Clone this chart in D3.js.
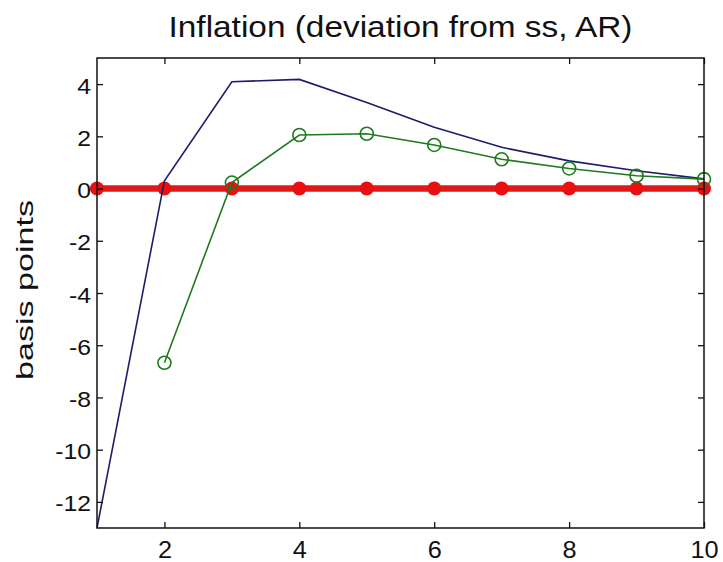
<!DOCTYPE html>
<html><head><meta charset="utf-8">
<script src="https://cdn.jsdelivr.net/npm/d3@7"></script>
<style>body{margin:0;background:#fff}svg{display:block}</style>
</head><body>
<script>
const periods = [1,2,3,4,5,6,7,8,9,10];
const blueSeries = [-13, 0.3, 4.09, 4.18, 3.3, 2.35, 1.58, 1.06, 0.68, 0.37];
const greenSeries = [null, -6.67, 0.23, 2.05, 2.1, 1.67, 1.12, 0.77, 0.49, 0.36];
const redSeries = [0,0,0,0,0,0,0,0,0,0];
const xTicks = [2,4,6,8,10];
const yTicks = [-12,-10,-8,-6,-4,-2,0,2,4];
const titleText = "Inflation (deviation from ss, AR)";
const yLabelText = "basis points";

(function(){
const W = 723, H = 562;
const m = {l:97, r:19, t:58, b:34};
const svg = d3.select("body").append("svg").attr("width",W).attr("height",H);
const x = d3.scaleLinear().domain([1,10]).range([m.l, W-m.r]);
const y = d3.scaleLinear().domain([-13,5]).range([H-m.b, m.t]);
const font = "'Liberation Sans', Arial, Helvetica, sans-serif";

svg.append("defs").append("clipPath").attr("id","c").append("rect")
  .attr("x",m.l-10).attr("y",m.t).attr("width",W-m.l-m.r+20).attr("height",H-m.t-m.b);

const g = svg.append("g").attr("clip-path","url(#c)");
const line = d3.line().defined(d=>d[1]!==null).x(d=>x(d[0])).y(d=>y(d[1]));

// red
g.append("path").datum(periods.map((p,i)=>[p,redSeries[i]]))
  .attr("d",line).attr("fill","none").attr("stroke","#e01818").attr("stroke-width",6.5);
g.selectAll(".rd").data(periods.map((p,i)=>[p,redSeries[i]])).enter().append("circle")
  .attr("cx",d=>x(d[0])).attr("cy",d=>y(d[1])).attr("r",7).attr("fill","#e81010");

// blue
g.append("path").datum(periods.map((p,i)=>[p,blueSeries[i]]))
  .attr("d",line).attr("fill","none").attr("stroke","#1c1c6c").attr("stroke-width",1.6);

// green
const gd = periods.map((p,i)=>[p,greenSeries[i]]).filter(d=>d[1]!==null);
g.append("path").datum(gd).attr("d",line).attr("fill","none").attr("stroke","#1e7a1e").attr("stroke-width",1.6);
g.selectAll(".gc").data(gd).enter().append("circle")
  .attr("cx",d=>x(d[0])).attr("cy",d=>y(d[1])).attr("r",6.5)
  .attr("fill","none").attr("stroke","#1e7a1e").attr("stroke-width",1.6);

// axes
const tl = 6;
const axB = svg.append("g").attr("transform",`translate(0,${H-m.b})`)
  .call(d3.axisBottom(x).tickValues(xTicks).tickSize(-tl).tickPadding(12).tickFormat(d3.format("d")));
const axT = svg.append("g").attr("transform",`translate(0,${m.t})`)
  .call(d3.axisTop(x).tickValues(xTicks).tickSize(-tl).tickFormat(""));
const axL = svg.append("g").attr("transform",`translate(${m.l},0)`)
  .call(d3.axisLeft(y).tickValues(yTicks).tickSize(-tl).tickPadding(6).tickFormat(d3.format("d")));
const axR = svg.append("g").attr("transform",`translate(${W-m.r},0)`)
  .call(d3.axisRight(y).tickValues(yTicks).tickSize(-tl).tickFormat(""));
[axB,axT,axL,axR].forEach(a=>{
  a.select(".domain").remove();
  a.selectAll(".tick line").attr("stroke","#111").attr("stroke-width",1.3);
  a.selectAll("text").attr("font-family",font).attr("fill","#111");
});
axL.selectAll("text").text(d=>d<0?"-"+Math.abs(d):d).attr("font-size",21.5).attr("dy","0.42em").attr("x",-6);
axB.selectAll("text").attr("font-size",23).attr("dy","0").attr("y",30);
function widen(sel, f){
  sel.each(function(){
    const L = this.getComputedTextLength();
    d3.select(this).attr("textLength", L*f).attr("lengthAdjust","spacingAndGlyphs");
  });
}
widen(axL.selectAll("text"), 1.15);
widen(axB.selectAll("text"), 1.1);

svg.append("rect").attr("x",m.l).attr("y",m.t).attr("width",W-m.l-m.r).attr("height",H-m.t-m.b)
  .attr("fill","none").attr("stroke","#111").attr("stroke-width",1.5);

svg.append("text").attr("x",(m.l+W-m.r)/2).attr("y",37).attr("text-anchor","middle")
  .attr("font-family",font).attr("font-size",30).attr("fill","#111")
  .attr("textLength",464).attr("lengthAdjust","spacingAndGlyphs").text(titleText);
svg.append("text").attr("transform",`translate(33,290) rotate(-90)`)
  .attr("text-anchor","middle").attr("font-family",font).attr("font-size",24).attr("fill","#111")
  .attr("textLength",180).attr("lengthAdjust","spacingAndGlyphs").text(yLabelText);
})();
</script>
</body></html>
